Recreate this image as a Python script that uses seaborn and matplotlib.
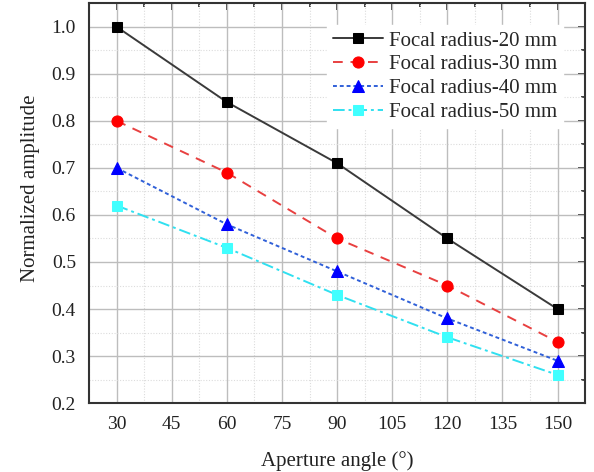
import matplotlib
matplotlib.use("Agg")
import matplotlib.pyplot as plt
import seaborn as sns
import pandas as pd
from matplotlib.ticker import MultipleLocator, AutoMinorLocator

angles = [30, 60, 90, 120, 150]
r20 = [1.00, 0.84, 0.71, 0.55, 0.40]
r30 = [0.80, 0.69, 0.55, 0.45, 0.33]
r40 = [0.70, 0.58, 0.48, 0.38, 0.29]
r50 = [0.62, 0.53, 0.43, 0.34, 0.26]
labels = ["Focal radius-20 mm", "Focal radius-30 mm", "Focal radius-40 mm", "Focal radius-50 mm"]

sns.set_style("white")
plt.rcParams['font.family'] = ['Liberation Serif', 'DejaVu Serif']

fig = plt.figure(figsize=(5.94, 4.72), dpi=100)
ax = fig.add_axes([0.150, 0.146, 0.835, 0.847])

styles = [
    dict(color="#3a3a3a", ls="-", marker="s", mfc="black", mec="black", ms=7),
    dict(color="#e84040", ls=(0, (5, 4)), marker="o", mfc="#ff0000", mec="#ff0000", ms=8),
    dict(color="#3060d8", ls=(0, (2, 1.5)), marker="^", mfc="#0000ff", mec="#0000ff", ms=8),
    dict(color="#30e0f0", ls=(0, (6, 2, 1.5, 2)), marker="s", mfc="#40ffff", mec="#40ffff", ms=7),
]
for ys, lab, st in zip([r20, r30, r40, r50], labels, styles):
    df = pd.DataFrame({"x": angles, "y": ys})
    sns.lineplot(data=df, x="x", y="y", ax=ax, color=st["color"], linestyle=st["ls"],
                 marker=st["marker"], markerfacecolor=st["mfc"], markeredgecolor=st["mec"],
                 markersize=st["ms"], linewidth=1.4, label=lab, zorder=3)

ax.set_xlim(22.5, 157.5)
ax.set_ylim(0.2, 1.05)
ax.xaxis.set_major_locator(MultipleLocator(15))
ax.xaxis.set_minor_locator(AutoMinorLocator(2))
ax.yaxis.set_major_locator(MultipleLocator(0.1))
ax.yaxis.set_minor_locator(AutoMinorLocator(2))
ax.yaxis.set_major_formatter(matplotlib.ticker.FormatStrFormatter("%.1f"))

ax.grid(which="major", color="#bdbdbd", linewidth=1.0, linestyle="-")
ax.grid(which="minor", color="#dcdcdc", linewidth=0.8, linestyle=(0, (1, 1.5)))
ax.set_axisbelow(True)

for s in ax.spines.values():
    s.set_color("#333333")
    s.set_linewidth(1.5)

ax.tick_params(axis="both", which="major", direction="out", length=6, width=1.3,
               labelsize=14, color="#333333", labelcolor="#222222")
ax.tick_params(axis="both", which="minor", direction="out", length=3, width=1.3, color="#333333")
ax.tick_params(top=False, right=False, which="both")

ax2 = ax.secondary_xaxis("top")
ax3 = ax.secondary_yaxis("right")
for a in (ax2, ax3):
    a.tick_params(which="major", direction="in", length=5, width=1.3, color="#333333", labelsize=0)
    a.tick_params(which="minor", direction="in", length=3, width=1.3, color="#333333")
ax2.xaxis.set_major_locator(MultipleLocator(15))
ax2.xaxis.set_minor_locator(AutoMinorLocator(2))
ax3.yaxis.set_major_locator(MultipleLocator(0.1))
ax3.yaxis.set_minor_locator(AutoMinorLocator(2))
ax2.set_xticklabels([])
ax3.set_yticklabels([])
for a in (ax2, ax3):
    for s in a.spines.values():
        s.set_visible(False)

ax.set_xlabel("Aperture angle (°)", fontsize=15, color="#222222", labelpad=13)
ax.set_ylabel("Normalized amplitude", fontsize=15, color="#222222", labelpad=8)
ax.yaxis.set_label_coords(-0.1, 0.538)

leg = ax.legend(loc="upper right", bbox_to_anchor=(0.968, 0.962), frameon=True, fontsize=15,
                handlelength=2.4, handletextpad=0.25, labelspacing=0.2, borderpad=0.3,
                borderaxespad=0.3)
leg.get_frame().set_facecolor("white")
leg.get_frame().set_edgecolor("white")
leg.get_frame().set_alpha(1.0)
leg.get_frame().set_boxstyle("square", pad=0.0)

fig.savefig("out.png", dpi=100)
